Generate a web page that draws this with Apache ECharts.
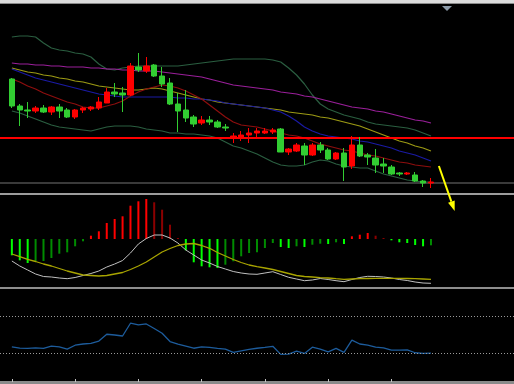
<!DOCTYPE html>
<html><head><meta charset="utf-8">
<script src="https://cdn.jsdelivr.net/npm/echarts@6/dist/echarts.min.js"></script>
<style>html,body{margin:0;padding:0;background:#000;}#c{width:514px;height:384px;}</style>
</head><body><div id="c"></div>
<script>
// ---- bar slots (first slot is an empty lead slot, last ones are empty future slots)
const categories = ['', '1','2','3','4','5','6','7','8','9','10','11','12','13','14','15','16','17','18','19','20',
 '21','22','23','24','25','26','27','28','29','30','31','32','33','34','35','36','37','38','39','40',
 '41','42','43','44','45','46','47','48','49','50','51','52','53','54','55','56','57','58','59','60',
 '61','62','63','64'];
const LEAD = 1;

// ---- price candles
const opens  = [121,94,90,89,92,88,93,90,83,90,91,92,97,108,107,105,133,129,135,124,117,96,90,83,77,80,78,73,62,63,65,67,67,68,71,48,49,54,45,55,50,41,47,34,55,45,42,36,33,27,26,25,19,17];
const closes = [94,90,89,92,88,93,89,83,90,92,93,98,108,106,105,134,130,134,124,116,96,89,82,76,80,78,73,72,64,65,67,69,69,70,48,51,55,45,55,50,41,47,33,55,44,43,35,34,26,26,27,19,17,18];
const lows   = [92,74,82,87,87,85,82,82,81,87,89,90,97,103,88,104,128,127,123,113,95,68,78,73,75,75,72,69,57,59,57,63,66,66,48,45,48,35,44,47,40,40,19,31,43,35,27,27,25,24,25,18,13,12];
const highs  = [122,96,98,94,95,94,96,92,91,93,94,103,112,117,113,137,147,143,136,133,122,107,110,85,84,84,80,76,67,69,72,72,72,72,72,52,57,57,57,58,52,48,52,64,63,47,51,42,35,28,28,28,20,22];

// ---- main-pane indicators
const bbUpper = [163,164,164,163,157,152,150,149,147,146,143,136,131,130,132,133,134,134,134,134,134,134,135,136,137,138,139,140,141,141,141,141,141,140,138,132,125,116,105,96,91,88,85,83,81,78,76,75,74,73,72,70,67,64];
const bbLower = [89,87,84,81,78,75,73,72,71,70,69,71,73,74,74,74,73,71,70,69,67,67,66,66,65,64,62,58,54,52,49,46,42,38,35,34,34,35,38,40,39,36,34,33,32,32,29,26,24,22,20,19,18,18];
const maPurple = [137,136,136,135,135,134,134,133,133,133,132,132,131,131,130,130,129,129,129,128,127,126,125,124,123,121,119,117,115,114,113,112,111,110,108,107,106,104,103,101,99,97,95,93,92,91,89,88,86,84,82,80,79,77];
const maYellow = [132,130,128,127,125,124,122,121,119,118,116,114,113,112,111,110,110,111,112,111,109,107,105,103,101,100,98,97,96,95,94,93,92,91,90,88,87,86,85,83,82,80,78,76,74,71,68,65,62,59,57,54,52,49];
const maBlue = [131,128,125,122,120,118,116,114,112,110,108,106,105,104,103,103,103,103,103,103,103,102,102,101,101,100,99,97,96,95,94,93,92,90,88,84,79,73,69,66,64,63,62,61,59,58,56,54,52,49,47,45,42,39];
const maRed = [121,118,114,111,107,104,101,98,96,93,92,92,94,96,99,104,108,111,113,115,114,112,109,105,101,95,89,83,78,75,74,73,71,69,67,65,64,62,59,56,54,52,50,49,47,45,44,42,40,38,37,35,34,33];
const redLevel = 62;
const grayLevel = 17;
const arrowFrom = [54, 34];   // [bar index, price]
const arrowTo = [56, -11];

// ---- MACD pane
const macdHist = [-16.3,-21.3,-24,-22.3,-22,-19,-14.7,-13.3,-7.3,-2.3,3.3,7.7,16,20,22.7,33.3,37.7,40,36.7,29.3,14.3,1,-11.3,-23.3,-27.3,-28.3,-29,-25.7,-22.3,-17.3,-14,-13.3,-9,-4,-8,-9,-7.3,-8,-5.7,-4.7,-5,-3.3,-5,2.7,4.3,6,3.3,1,-1.3,-3.3,-4,-6,-7.3,-6.3];
const macdMain = [-22,-27,-31,-35,-37.5,-38,-39,-39.7,-38.5,-36.5,-34.5,-32,-28,-25,-21.5,-14,-5,0.5,4,4,1,-4,-11,-16,-21,-24,-27.5,-30,-32.5,-34,-35,-35.3,-34,-32.7,-35.5,-38.3,-40,-41.7,-41,-39.5,-40.5,-41.7,-42.7,-40.5,-38.5,-37.3,-37.5,-38,-39,-40.5,-41.5,-43,-44,-44.3];
const macdSignal = [-15,-17.7,-20.3,-22.5,-25,-27,-29.5,-32,-34,-36,-36.5,-37,-36.5,-35,-33.5,-30.5,-27,-23,-18,-13,-9.5,-6.5,-5,-4.5,-6.5,-9.3,-13.5,-17,-20.5,-23.5,-26,-27.7,-29,-30.5,-32.5,-34.5,-36.5,-37.5,-38,-38.7,-39,-39.7,-40.3,-40,-39.7,-39.5,-39.3,-39.3,-39.3,-39.3,-39.5,-39.7,-40,-40.3];

// ---- oscillator pane
const rsi = [37.2,35.8,35.5,36.1,35.5,38,37.2,34.7,38.9,40.2,40.8,43.4,50.8,50,48.9,62.8,60.9,62,57.1,51.9,42.9,40.2,38,35.6,37.2,36.6,35.5,34.7,31.1,32.7,34.3,35.6,36.6,37.7,28.9,29.2,32.5,30,36.7,34.7,31.7,35.5,31.1,44.5,40.2,39.1,36.9,36.1,33.6,33.6,33.9,30.7,30,30.3];
const rsiLevels = [70, 30];

function pad(arr, empty){ return [empty === undefined ? '-' : empty].concat(arr); }

const chart = echarts.init(document.getElementById('c'), null, {renderer:'canvas'});
const candleData = pad(opens.map((o,i)=>[o, closes[i], lows[i], highs[i]]), ['-','-','-','-']);

function lineSeries(data, color, xi, width){
  return {type:'line', xAxisIndex:xi, yAxisIndex:xi, data:pad(data), showSymbol:false, symbol:'none',
    lineStyle:{color:color, width:width||1}, silent:true, z:3};
}

const histColor = function(p){
  const i = p.dataIndex - LEAD;
  if (i < 0) return '#000';
  const v = macdHist[i];
  const prev = i>0 ? macdHist[i-1] : 0;
  const growing = Math.abs(v) > Math.abs(prev) || (v>0) !== (prev>0);
  if (v >= 0) return growing ? '#ff0000' : '#8c0000';
  return growing ? '#00ff00' : '#008c00';
};

const grids = [
  {left:-5, width:520, top:5, height:185},
  {left:-5, width:520, top:194, height:92},
  {left:-5, width:520, top:289, height:92}
];

chart.setOption({
  backgroundColor:'#000000',
  animation:false,
  grid: grids,
  xAxis: [0,1,2].map(i=>({
    type:'category', gridIndex:i, data:categories, boundaryGap:true,
    axisLine:{show:i===2, onZero:false, lineStyle:{color:'#8a8a8a', width:3}},
    offset: i===2 ? 1 : 0,
    axisTick:{show:i===2, alignWithLabel:true, length:3, inside:true,
      interval:function(idx){ return idx>=LEAD && (idx-LEAD)%8===0 && (idx-LEAD)<opens.length; },
      lineStyle:{color:'#c4c4c4', width:1}},
    axisLabel:{show:false}, splitLine:{show:false}
  })),
  yAxis: [
    {type:'value', gridIndex:0, min:10, max:195, show:false},
    {type:'value', gridIndex:1, min:-47, max:45, show:false},
    {type:'value', gridIndex:2, min:0, max:100, show:false}
  ],
  series: [
    lineSeries(bbUpper, '#2a5e40', 0, 1.2),
    lineSeries(bbLower, '#2a5e40', 0, 1.2),
    lineSeries(maPurple, '#9a1f9a', 0, 1.2),
    lineSeries(maYellow, '#9c9a14', 0, 1.2),
    lineSeries(maBlue, '#1a1aa4', 0, 1.2),
    lineSeries(maRed, '#8e0e0e', 0, 1.2),
    {
      type:'candlestick', xAxisIndex:0, yAxisIndex:0, data:candleData, barWidth:6, z:5,
      itemStyle:{color:'#ff0000', color0:'#32cd32', borderColor:'#ff0000', borderColor0:'#32cd32', borderWidth:1},
      markLine:{silent:true, symbol:['none','none'], label:{show:false}, animation:false,
        data:[
          {yAxis:redLevel, lineStyle:{color:'#ff0000', width:2, type:'solid'}},
          {yAxis:grayLevel, lineStyle:{color:'#3a3a3a', width:2, type:'solid'}}
        ]}
    },
    {type:'bar', xAxisIndex:1, yAxisIndex:1, data:pad(macdHist), barWidth:2, itemStyle:{color:histColor}, silent:true},
    lineSeries(macdMain, '#c0c0c0', 1, 1),
    lineSeries(macdSignal, '#a8a400', 1, 1.3),
    Object.assign(lineSeries(rsi, '#1d5c9c', 2, 1.3), {
      markLine:{silent:true, symbol:['none','none'], label:{show:false}, animation:false,
        lineStyle:{color:'#9a9a9a', width:1, type:[1,2]},
        data: rsiLevels.map(v=>({yAxis:v}))}
    })
  ]
});

// decorations & arrow annotation (positions through the axes)
const p0 = chart.convertToPixel({xAxisIndex:0, yAxisIndex:0}, [arrowFrom[0]+LEAD, arrowFrom[1]]);
const p1 = chart.convertToPixel({xAxisIndex:0, yAxisIndex:0}, [arrowTo[0]+LEAD, arrowTo[1]]);
const dx = p1[0]-p0[0], dy = p1[1]-p0[1], L = Math.hypot(dx,dy), ux = dx/L, uy = dy/L;
const hl = 10, hw = 3.5;
const bx = p1[0]-ux*hl, by = p1[1]-uy*hl;

chart.setOption({
  graphic: [
    {type:'rect', shape:{x:0, y:0, width:514, height:3}, style:{fill:'#dcdcdc'}, z:100, silent:true},
    {type:'rect', shape:{x:0, y:3, width:514, height:1}, style:{fill:'#8a8a8a'}, z:100, silent:true},
    {type:'polygon', shape:{points:[[442,6],[452,6],[447,11]]}, style:{fill:'#8c9aa8'}, z:100, silent:true},
    {type:'rect', shape:{x:0, y:193, width:514, height:2}, style:{fill:'#9c9c9c'}, z:100, silent:true},
    {type:'rect', shape:{x:0, y:287, width:514, height:2}, style:{fill:'#8e8e8e'}, z:100, silent:true},
    {type:'line', shape:{x1:p0[0], y1:p0[1], x2:bx, y2:by}, style:{stroke:'#ffff00', lineWidth:2}, z:110, silent:true},
    {type:'polygon', shape:{points:[[p1[0],p1[1]],[bx-uy*hw, by+ux*hw],[bx+uy*hw, by-ux*hw]]}, style:{fill:'#ffff00'}, z:110, silent:true}
  ]
});
</script>
</body></html>
